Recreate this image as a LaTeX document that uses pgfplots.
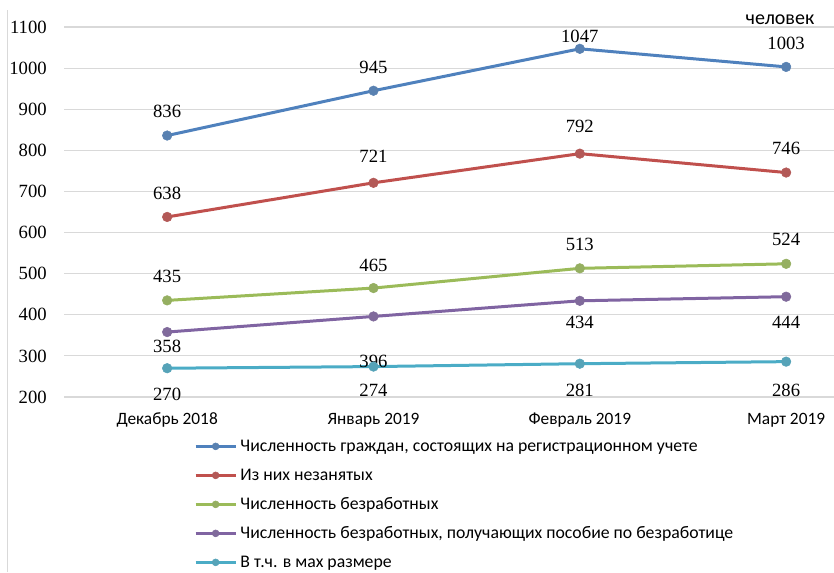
\documentclass[border=0pt]{standalone}
\usepackage{pgfplots}
\pgfplotsset{compat=1.18}
\usepackage{pgfplotstable}
\usepackage{fontspec}
\setmainfont{Liberation Serif}
\newfontfamily\calibri{Carlito}
\definecolor{c1}{HTML}{4F81BD}
\definecolor{c2}{HTML}{C0504D}
\definecolor{c3}{HTML}{9BBB59}
\definecolor{c4}{HTML}{8064A2}
\definecolor{c5}{HTML}{4BACC6}
\definecolor{gridc}{HTML}{D9D9D9}
% x y dy (label offset in px, up positive)
\pgfplotstableread{
x y dy
0 836 24
1 945 23
2 1047 12
3 1003 24
}\tblA
\pgfplotstableread{
x y dy
0 638 24
1 721 27
2 792 27
3 746 24
}\tblB
\pgfplotstableread{
x y dy
0 435 24
1 465 23
2 513 24
3 524 24
}\tblC
\pgfplotstableread{
x y dy
0 358 -14
1 396 -45
2 434 -22
3 444 -26
}\tblD
\pgfplotstableread{
x y dy
0 270 -26
1 274 -24
2 281 -27
3 286 -29
}\tblE
\pgfplotsset{lbl/.style={
  line width=2.25pt, mark=*, 
  mark options={solid, fill=#1!80!gray, draw=#1!80!gray, line width=0.4pt, scale=1},
  mark size=3.6pt,
  color=#1,
  nodes near coords,
  point meta=explicit,
  visualization depends on={\thisrow{dy} \as \dy},
  every node near coord/.append style={anchor=center, text=black, inner sep=0pt,
     font=\fontsize{14}{16}\selectfont, yshift={\dy*0.75pt}},
}}
\begin{document}
\begin{tikzpicture}[x=1pt,y=1pt]
\path[use as bounding box] (0,0) rectangle (625.5,429);
\draw[gridc, line width=0.75pt] (5.25,0) -- (5.25,421.5);
\node[font=\calibri\fontsize{15}{17}\selectfont, inner sep=0pt] at (585,414) {человек};
\begin{axis}[
  at={(48pt,131.25pt)}, anchor=south west, scale only axis,
  width=577.5pt, height=277.5pt,
  xmin=-0.5, xmax=3.232, ymin=200, ymax=1100,
  clip=false,
  axis line style={draw=none},
  major tick length=0pt,
  ymajorgrids, major grid style={gridc, line width=0.9pt},
  ytick={200,300,...,1100},
  xtick={0,1,2,3},
  xticklabels={Декабрь 2018, Январь 2019, Февраль 2019, Март 2019},
  /pgf/number format/1000 sep={},
  /pgf/number format/assume math mode=true,
  yticklabel style={font=\fontsize{14}{16}\selectfont, anchor=east, inner sep=0pt, xshift=-12.75pt},
  xticklabel style={font=\calibri\fontsize{13}{15}\selectfont, anchor=base, inner sep=0pt, yshift=-20.75pt},
  legend style={at={(0.169,-0.110)}, anchor=north west, draw=none, fill=none, inner sep=0pt, outer sep=0pt,
     font=\calibri\fontsize{13.3}{16}\selectfont,
     nodes={inner sep=0pt, text height=10pt, text depth=3pt},
     row sep=8.75pt, legend cell align=left,
     /tikz/every odd column/.append style={column sep=2.5pt}},
  legend image code/.code={\draw[#1, mark repeat=2, mark phase=2, line width=2.25pt, mark size=2.6pt] plot coordinates {(0pt,0pt) (15pt,0pt) (30pt,0pt)};},
]
\addplot[lbl=c1] table[x=x,y=y,meta=y] {\tblA};
\addlegendentry{Численность граждан, состоящих на регистрационном учете}
\addplot[lbl=c2] table[x=x,y=y,meta=y] {\tblB};
\addlegendentry{Из них незанятых}
\addplot[lbl=c3] table[x=x,y=y,meta=y] {\tblC};
\addlegendentry{Численность безработных}
\addplot[lbl=c4] table[x=x,y=y,meta=y] {\tblD};
\addlegendentry{Численность безработных, получающих пособие по безработице}
\addplot[lbl=c5] table[x=x,y=y,meta=y] {\tblE};
\addlegendentry{В т.ч. в мах размере}
\end{axis}
\end{tikzpicture}
\end{document}
